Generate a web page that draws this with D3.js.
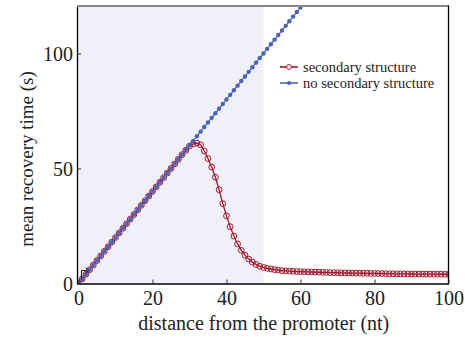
<!DOCTYPE html>
<html>
<head>
<meta charset="utf-8">
<script src="https://cdn.jsdelivr.net/npm/d3@7"></script>
<style>
  body { margin: 0; background: #fff; }
  svg { display: block; font-family: "Liberation Serif", "DejaVu Serif", serif; }
</style>
</head>
<body>
<svg width="465" height="337"></svg>
<script>
// distance from promoter (nt), one point per nucleotide
var positions = d3.range(0, 101);

// no secondary structure: grows linearly, runs off the top past ~60 nt
var noStructure = [
    0, 2, 4, 6, 8, 10, 12, 14, 16, 18,
    20, 22, 24, 26, 28, 30, 32, 34, 36, 38,
    40, 42, 44, 46, 48, 50, 52, 54, 56, 58,
    60, 62, 64, 66, 68, 70, 72, 74, 76, 78,
    80, 82, 84, 86, 88, 90, 92, 94, 96, 98,
    100, 102, 104, 106, 108, 110, 112, 114, 116, 118,
    120, 122
];

// secondary structure: follows the line, peaks near 32 nt, then collapses
var withStructure = [
    0, 2, 4, 6, 8, 10, 12, 14, 16, 18,
    20, 22, 24, 26, 28, 30, 32, 34, 36, 38,
    40, 42, 44, 46, 48, 50, 52, 54, 56, 57.9,
    59.7, 60.7, 61.0, 60.3, 57.6, 54.3, 50.6, 46.2, 40.8, 34.7,
    29.4, 24.7, 20.6, 17.2, 14.4, 12.3, 10.6, 9.3, 8.3, 7.5,
    7.0, 6.6, 6.3, 6.0, 5.8, 5.6, 5.5, 5.4, 5.3, 5.2,
    5.15, 5.1, 5.05, 5.0, 4.95, 4.9, 4.85, 4.8, 4.75, 4.72,
    4.68, 4.64, 4.6, 4.57, 4.54, 4.51, 4.48, 4.45, 4.42, 4.4,
    4.37, 4.34, 4.31, 4.28, 4.25, 4.22, 4.2, 4.18, 4.16, 4.14,
    4.12, 4.1, 4.09, 4.08, 4.07, 4.06, 4.05, 4.04, 4.03, 4.02,
    4.0
];

var xTicks = [0, 20, 40, 60, 80, 100];
var yTicks = [0, 50, 100];
var seriesNames = ["secondary structure", "no secondary structure"];

var svg = d3.select('svg');
var pLeft = 77, pRight = 448.5, pTop = 6.5, pBottom = 283.5;

var x = d3.scaleLinear().domain([-0.4, 100]).range([pLeft, pRight]);
var y = d3.scaleLinear().domain([0, 120.4]).range([pBottom, pTop]);

var red = '#a3162c';
var blue = '#4b63b3';

// shaded window 0-50 nt
svg.append('rect')
    .attr('x', pLeft)
    .attr('y', pTop)
    .attr('width', x(50) - pLeft)
    .attr('height', pBottom - pTop)
    .attr('fill', '#f0f1f8');

svg.append('clipPath').attr('id', 'plot')
    .append('rect')
        .attr('x', pLeft)
        .attr('y', pTop)
        .attr('width', pRight - pLeft)
        .attr('height', pBottom - pTop);

var plot = svg.append('g').attr('clip-path', 'url(#plot)');

var line = d3.line()
    .x(function(d) { return x(d[0]); })
    .y(function(d) { return y(d[1]); });

var blueData = noStructure.map(function(v, i) { return [positions[i], v]; });
var redData = withStructure.map(function(v, i) { return [positions[i], v]; });

// red line + open circles
plot.append('path')
    .datum(redData)
    .attr('d', line)
    .attr('fill', 'none')
    .attr('stroke', red)
    .attr('stroke-width', 1.3);

plot.selectAll('circle.red')
    .data(redData)
    .enter()
    .append('circle')
        .attr('class', 'red')
        .attr('cx', function(d) { return x(d[0]); })
        .attr('cy', function(d) { return y(d[1]); })
        .attr('r', 2.9)
        .attr('fill', 'none')
        .attr('stroke', red)
        .attr('stroke-width', 1);

// blue line + filled dots drawn on top
plot.append('path')
    .datum(blueData)
    .attr('d', line)
    .attr('fill', 'none')
    .attr('stroke', blue)
    .attr('stroke-width', 1.2);

plot.selectAll('circle.blue')
    .data(blueData)
    .enter()
    .append('circle')
        .attr('class', 'blue')
        .attr('cx', function(d) { return x(d[0]); })
        .attr('cy', function(d) { return y(d[1]); })
        .attr('r', 2.2)
        .attr('fill', blue);

// frame: grey top, black right
svg.append('line')
    .attr('x1', pLeft).attr('x2', pRight + 0.5)
    .attr('y1', pTop - 0.5).attr('y2', pTop - 0.5)
    .attr('stroke', '#888').attr('stroke-width', 2);
svg.append('line')
    .attr('x1', pRight).attr('x2', pRight)
    .attr('y1', pTop - 1).attr('y2', pBottom)
    .attr('stroke', '#000').attr('stroke-width', 1.3);

// axes with inward ticks
var xAxis = svg.append('g')
    .attr('transform', 'translate(0,' + pBottom + ')')
    .call(d3.axisBottom(x).tickValues(xTicks).tickSizeInner(-4).tickSizeOuter(0).tickPadding(6));
var yAxis = svg.append('g')
    .attr('transform', 'translate(' + pLeft + ',0)')
    .call(d3.axisLeft(y).tickValues(yTicks).tickSizeInner(-4).tickSizeOuter(0).tickPadding(4));

[xAxis, yAxis].forEach(function(g) {
    g.select('.domain').attr('stroke', '#000').attr('stroke-width', 1.3);
    g.selectAll('.tick line').attr('stroke', '#333');
    g.selectAll('.tick text')
        .attr('font-family', '"Liberation Serif", serif')
        .attr('font-size', 20)
        .attr('fill', '#222');
});
xAxis.selectAll('.tick text').attr('dy', '0.78em');
yAxis.selectAll('.tick text').attr('dy', '0.36em');

// promoter glyph (bent arrow) at the origin
var gx = x(0.8), gy = pBottom - 4;
svg.append('path')
    .attr('d', 'M' + gx + ',' + gy + 'V' + (gy - 9) + 'H' + (gx + 5.5))
    .attr('fill', 'none').attr('stroke', '#222').attr('stroke-width', 1);
svg.append('path')
    .attr('d', 'M' + (gx + 4) + ',' + (gy - 12) + 'L' + (gx + 7) + ',' + (gy - 9) + 'L' + (gx + 4) + ',' + (gy - 6))
    .attr('fill', 'none').attr('stroke', '#222').attr('stroke-width', 1);

// axis titles
svg.append('text')
    .attr('x', (pLeft + pRight) / 2 + 1)
    .attr('y', 330)
    .attr('text-anchor', 'middle')
    .attr('font-size', 20)
    .attr('fill', '#222')
    .text('distance from the promoter (nt)');
svg.append('text')
    .attr('transform', 'translate(33,159) rotate(-90)')
    .attr('text-anchor', 'middle')
    .attr('font-size', 19)
    .attr('fill', '#222')
    .text('mean recovery time (s)');

// legend
var legend = svg.append('g').attr('transform', 'translate(280,67)');
seriesNames.forEach(function(name, i) {
    var row = legend.append('g').attr('transform', 'translate(0,' + (i * 16) + ')');
    var c = i === 0 ? red : blue;
    row.append('line')
        .attr('x1', 0).attr('x2', 18).attr('y1', 0).attr('y2', 0)
        .attr('stroke', c).attr('stroke-width', 1.6);
    if (i === 0) {
        row.append('circle').attr('cx', 9).attr('cy', 0).attr('r', 2.4)
            .attr('fill', '#fff').attr('stroke', c).attr('stroke-width', 1);
    } else {
        row.append('circle').attr('cx', 9).attr('cy', 0).attr('r', 2).attr('fill', c);
    }
    row.append('text')
        .attr('x', 23).attr('y', 0).attr('dy', '0.32em')
        .attr('font-size', 14.5)
        .attr('fill', '#222')
        .text(name);
});
</script>
</body>
</html>
